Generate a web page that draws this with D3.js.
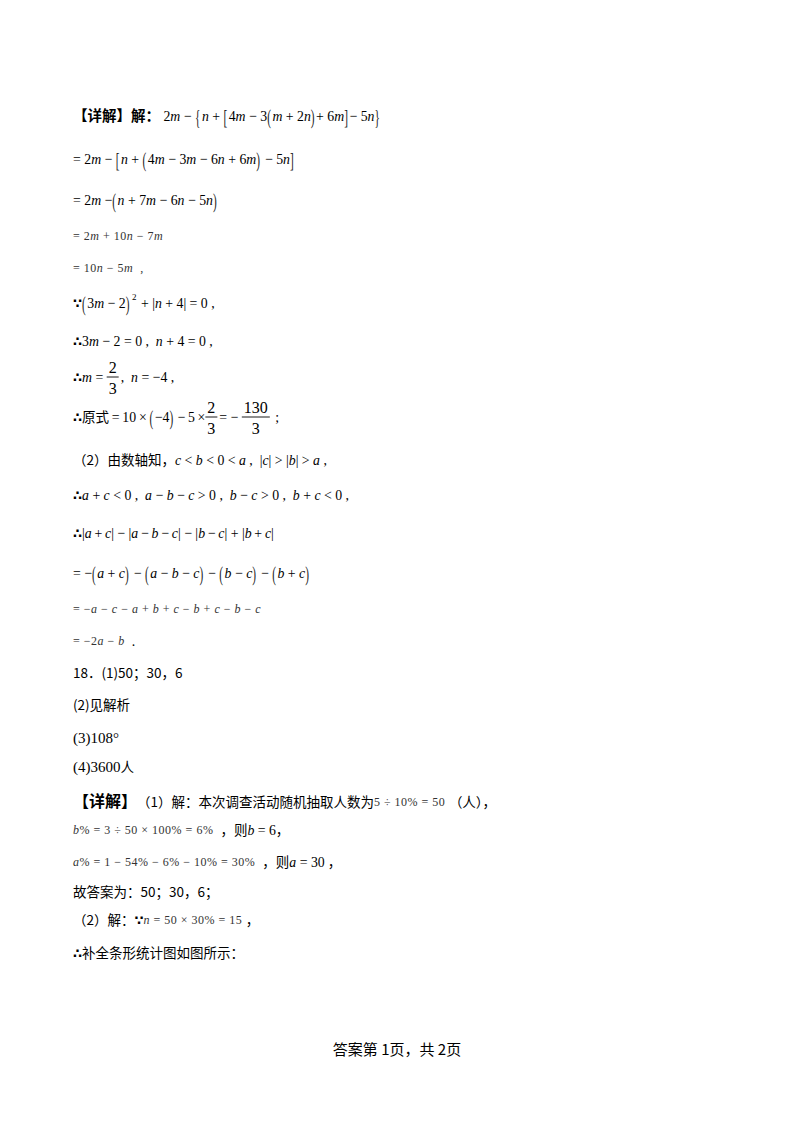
<!DOCTYPE html>
<html>
<head>
<meta charset="utf-8">
<script src="https://cdn.jsdelivr.net/npm/d3@7"></script>
<style>
  body { margin: 0; background: #fff; }
  svg { display: block; }
  text { white-space: pre; }
</style>
</head>
<body>
<svg width="793" height="1123"></svg>
<script>
// segment kinds: c = chinese, b/B = bold chinese, t = therefore/because sign,
// m = math, s = small spaced math, n = upright serif, p = tall bracket,
// u = superscript, f = fraction "num/den"
const solutionLines = [
  [["b", "【详解】解："], ["m", " 2m − "], ["p", "{"], ["m", "n + "], ["p", "["], ["m", "4m − 3"], ["p", "("], ["m", "m + 2n"], ["p", ")"], ["m", "+ 6m"], ["p", "]"], ["m", "− 5n"], ["p", "}"]],
  [["m", "= 2m − "], ["p", "["], ["m", "n + "], ["p", "("], ["m", "4m − 3m − 6n + 6m"], ["p", ")"], ["m", " − 5n"], ["p", "]"]],
  [["m", "= 2m −"], ["p", "("], ["m", "n + 7m − 6n − 5n"], ["p", ")"]],
  [["s", "= 2m + 10n − 7m"]],
  [["s", "= 10n − 5m  ,"]],
  [["t", "∵"], ["p", "("], ["m", "3m − 2"], ["p", ")"], ["u", "2"], ["m", " + |n + 4| = 0 ,"]],
  [["t", "∴"], ["m", "3m − 2 = 0 ,  n + 4 = 0 ,"]],
  [["t", "∴"], ["m", "m = "], ["f", "2/3"], ["m", ",  n = −4 ,"]],
  [["t", "∴"], ["c", "原式"], ["m", "\u2009=\u200910\u2009×\u2009"], ["p", "("], ["m", "−4"], ["p", ")"], ["m", "\u2009−\u20095\u2009×"], ["f", "2/3"], ["m", "= − "], ["f", "130/3"], ["m", " ;"]],
  [["c", "（2）由数轴知，"], ["m", "c < b < 0 < a ,  |c| > |b| > a ,"]],
  [["t", "∴"], ["m", "a + c < 0 ,  a − b − c > 0 ,  b − c > 0 ,  b + c < 0 ,"]],
  [["t", "∴"], ["m", "|a\u2009+\u2009c| − |a\u2009−\u2009b\u2009−\u2009c| − |b\u2009−\u2009c| + |b\u2009+\u2009c|"]],
  [["m", "= −"], ["p", "("], ["m", "a + c"], ["p", ")"], ["m", " − "], ["p", "("], ["m", "a − b − c"], ["p", ")"], ["m", " − "], ["p", "("], ["m", "b − c"], ["p", ")"], ["m", " − "], ["p", "("], ["m", "b + c"], ["p", ")"]],
  [["s", "= −a − c − a + b + c − b + c − b − c"]],
  [["s", "= −2a − b "], ["m", " ."]]
]

const answerLines = [
  [["c", "18．(1)50；30，6"]],
  [["c", "(2)见解析"]],
  [["n", "(3)108°"]],
  [["n", "(4)3600"], ["c", "人"]],
  [["B", "【详解】"], ["c", "（1）解：本次调查活动随机抽取人数为"], ["s", "5 ÷ 10% = 50 "], ["c", "（人），"]],
  [["s", "b% = 3 ÷ 50 × 100% = 6%  "], ["c", "，则"], ["m", "b = 6"], ["c", "，"]],
  [["s", "a% = 1 − 54% − 6% − 10% = 30%  "], ["c", "，则"], ["m", "a = 30"], ["c", " ，"]],
  [["c", "故答案为：50；30，6；"]],
  [["c", "（2）解："], ["t", "∵"], ["s", "n = 50 × 30% = 15 "], ["c", "，"]],
  [["t", "∴"], ["c", "补全条形统计图如图所示："]]
]

const footerText = "答案第 1页，共 2页"

// layout
const solutionBaselines = [121, 164, 205, 241, 273, 308, 346, 382, 422, 465, 500, 538, 578, 614, 646]
const answerBaselines = [678, 710, 743, 772, 807, 835, 867, 897, 925, 958]
const leftX = 73
const size = 13.5
const mathSize = 15
const mathSqueeze = 0.92
const cjkFont = "'Noto Sans CJK SC', sans-serif"
const mathFont = "'Liberation Serif', 'DejaVu Serif', serif"

const svg = d3.select("svg")
svg.append("rect").attr("width", 793).attr("height", 1123).attr("fill", "#fff")
const page = svg.append("g").attr("class", "page")

function addMath(g, x, y, str, fs, spacing, fill, sx) {
  const t = g.append("text")
    .attr("transform", `translate(${x},${y}) scale(${sx},1)`)
    .attr("font-family", mathFont)
    .attr("font-size", fs)
    .attr("fill", fill)
    .attr("letter-spacing", spacing)
  const runs = str.match(/[a-z]+|[^a-z]+/g) || []
  runs.forEach(r => {
    t.append("tspan")
      .attr("font-style", /[a-z]/.test(r) ? "italic" : "normal")
      .text(r)
  })
  return t.node().getComputedTextLength() * sx
}

function drawSegment(g, x, y, seg) {
  const [kind, val] = seg
  if (kind === "c" || kind === "b" || kind === "B") {
    const bold = kind !== "c"
    const t = g.append("text")
      .attr("x", x).attr("y", y)
      .attr("font-family", cjkFont)
      .attr("font-size", kind === "B" ? 16 : bold ? 14.5 : size)
      .attr("font-weight", bold ? 700 : 400)
      .attr("fill", "#000")
      .text(val)
    return t.node().getComputedTextLength()
  }
  if (kind === "t") {
    const t = g.append("text")
      .attr("x", x).attr("y", y)
      .attr("font-family", "'DejaVu Sans', sans-serif")
      .attr("font-size", 13)
      .attr("font-weight", 700)
      .text(val)
    return t.node().getComputedTextLength()
  }
  if (kind === "n") {
    const t = g.append("text")
      .attr("x", x).attr("y", y)
      .attr("font-family", mathFont)
      .attr("font-size", mathSize)
      .text(val)
    return t.node().getComputedTextLength()
  }
  if (kind === "m") return addMath(g, x, y, val, mathSize, 0, "#000", mathSqueeze)
  if (kind === "s") return addMath(g, x, y - 1, val, 12, 0.5, "#333", 1)
  if (kind === "p") {
    const t = g.append("text")
      .attr("transform", `translate(${x},${y + 3}) scale(0.75,1.45)`)
      .attr("font-family", mathFont)
      .attr("font-size", mathSize)
      .attr("fill", "#222")
      .text(val)
    return t.node().getComputedTextLength() * 0.75 + 1.5
  }
  if (kind === "u") {
    const t = g.append("text")
      .attr("x", x + 1).attr("y", y - 8)
      .attr("font-family", mathFont)
      .attr("font-size", 9)
      .text(val)
    return t.node().getComputedTextLength() + 2
  }
  if (kind === "f") {
    const [num, den] = val.split("/")
    const fg = g.append("g")
    const nt = fg.append("text").attr("y", y - 9).attr("font-family", mathFont).attr("font-size", mathSize + 1).text(num)
    const dt = fg.append("text").attr("y", y + 12).attr("font-family", mathFont).attr("font-size", mathSize + 1).text(den)
    const w = Math.max(nt.node().getComputedTextLength(), dt.node().getComputedTextLength()) + 4
    nt.attr("x", x + w / 2).attr("text-anchor", "middle")
    dt.attr("x", x + w / 2).attr("text-anchor", "middle")
    fg.append("line")
      .attr("x1", x).attr("x2", x + w)
      .attr("y1", y - 5).attr("y2", y - 5)
      .attr("stroke", "#000").attr("stroke-width", 0.9)
    return w + 2
  }
  return 0
}

function drawLines(lines, baselines) {
  lines.forEach((segs, i) => {
    const g = page.append("g").attr("class", "line")
    let x = leftX
    segs.forEach(seg => { x += drawSegment(g, x, baselines[i], seg) })
  })
}

drawLines(solutionLines, solutionBaselines)
drawLines(answerLines, answerBaselines)

page.append("text")
  .attr("x", 397).attr("y", 1055)
  .attr("text-anchor", "middle")
  .attr("font-family", cjkFont)
  .attr("font-size", 15)
  .text(footerText)
</script>
</body>
</html>
